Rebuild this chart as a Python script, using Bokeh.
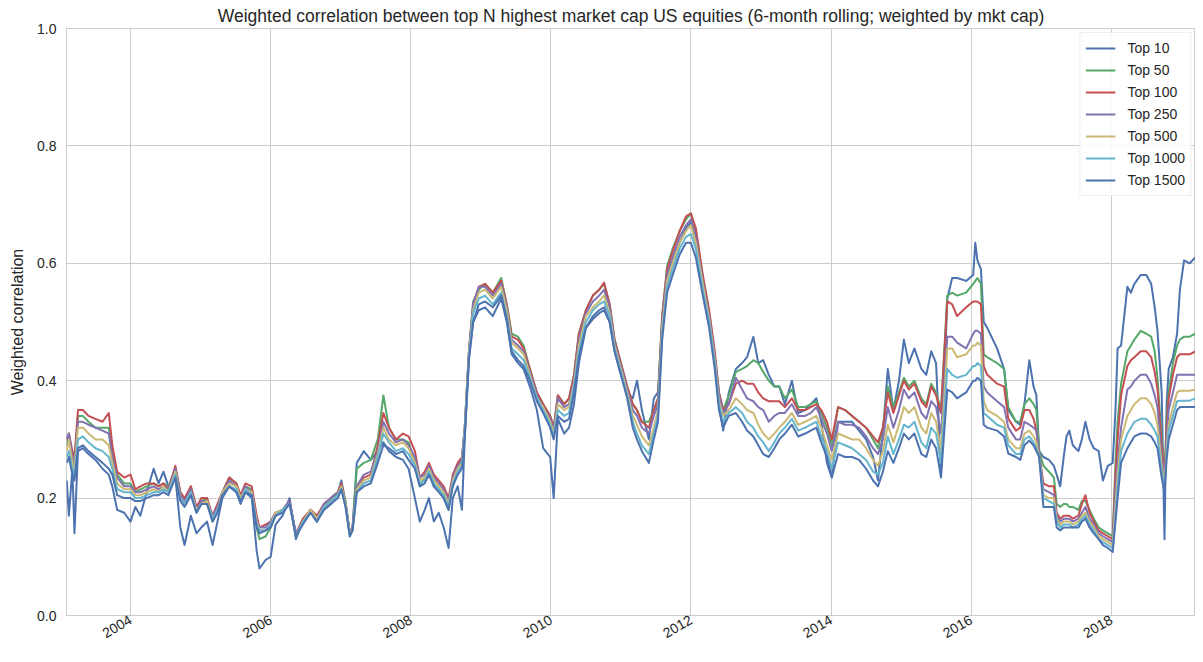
import math
from datetime import datetime
from bokeh.plotting import figure
from bokeh.models import (Range1d, FixedTicker, PrintfTickFormatter,
                          DatetimeTickFormatter, Legend, LegendItem)
from bokeh.embed import file_html
from bokeh.resources import INLINE

# ---------------- data ----------------
# dates as decimal years, one line per calendar year
years = (
    [2003.09, 2003.12, 2003.17, 2003.20, 2003.25, 2003.32, 2003.40, 2003.50, 2003.60, 2003.69, 2003.74, 2003.81, 2003.91]
    + [2004.00, 2004.07, 2004.14, 2004.23, 2004.33, 2004.40, 2004.47, 2004.54, 2004.64, 2004.71, 2004.77, 2004.86, 2004.94]
    + [2005.01, 2005.09, 2005.17, 2005.24, 2005.31, 2005.41, 2005.51, 2005.57, 2005.64, 2005.73, 2005.80, 2005.84, 2005.93]
    + [2006.00, 2006.07, 2006.17, 2006.27, 2006.36, 2006.46, 2006.57, 2006.66, 2006.76, 2006.86, 2006.96]
    + [2007.01, 2007.07, 2007.13, 2007.17, 2007.23, 2007.33, 2007.43, 2007.53, 2007.61, 2007.69, 2007.79, 2007.89, 2007.97]
    + [2008.06, 2008.13, 2008.20, 2008.26, 2008.33, 2008.40, 2008.47, 2008.54, 2008.60, 2008.67, 2008.73, 2008.77, 2008.83, 2008.89, 2008.97]
    + [2009.06, 2009.17, 2009.29, 2009.37, 2009.44, 2009.53, 2009.61, 2009.70, 2009.80, 2009.89, 2009.99]
    + [2010.04, 2010.10, 2010.19, 2010.26, 2010.33, 2010.40, 2010.50, 2010.60, 2010.69, 2010.76, 2010.84, 2010.91]
    + [2011.00, 2011.09, 2011.17, 2011.23, 2011.30, 2011.40, 2011.47, 2011.53, 2011.59, 2011.66, 2011.74, 2011.84, 2011.93]
    + [2012.00, 2012.07, 2012.17, 2012.26, 2012.34, 2012.40, 2012.46, 2012.54, 2012.64, 2012.73, 2012.80, 2012.89, 2012.96]
    + [2013.03, 2013.11, 2013.19, 2013.26, 2013.34, 2013.44, 2013.53, 2013.63, 2013.71, 2013.79, 2013.86, 2013.94]
    + [2014.01, 2014.10, 2014.20, 2014.30, 2014.40, 2014.50, 2014.60, 2014.67, 2014.74, 2014.81, 2014.89, 2014.97]
    + [2015.04, 2015.11, 2015.19, 2015.29, 2015.36, 2015.43, 2015.50, 2015.57, 2015.66, 2015.73, 2015.80, 2015.93]
    + [2016.03, 2016.06, 2016.09, 2016.14, 2016.18, 2016.23, 2016.37, 2016.47, 2016.53, 2016.64, 2016.70, 2016.76, 2016.83, 2016.89, 2016.93, 2016.97]
    + [2017.03, 2017.11, 2017.18, 2017.22, 2017.27, 2017.32, 2017.36, 2017.40, 2017.45, 2017.53, 2017.58, 2017.63, 2017.69, 2017.75, 2017.82, 2017.88, 2017.95]
    + [2018.02, 2018.06, 2018.09, 2018.14, 2018.23, 2018.28, 2018.33, 2018.42, 2018.50, 2018.57, 2018.62, 2018.66, 2018.72, 2018.76, 2018.79, 2018.82, 2018.88, 2018.94, 2018.98]
    + [2019.04, 2019.12, 2019.20, 2019.27, 2019.32]
)

top10 = (
    [.23, .17, .25, .14, .28, .285, .275, .265, .25, .24, .22, .18, .175]
    + [.16, .185, .17, .21, .25, .225, .245, .22, .235, .15, .12, .17, .14]
    + [.15, .16, .12, .16, .20, .22, .21, .19, .21, .20, .11, .08, .095]
    + [.10, .155, .17, .20, .13, .16, .18, .16, .18, .19, .21]
    + [.23, .19, .14, .15, .26, .28, .265, .28, .295, .28, .27, .265, .25]
    + [.20, .16, .18, .20, .16, .175, .15, .115, .20, .22, .18, .30, .44, .50, .52]
    + [.525, .51, .54, .50, .445, .43, .42, .39, .35, .285, .27]
    + [.20, .335, .31, .32, .36, .43, .49, .505, .515, .52, .50, .45]
    + [.41, .38, .37, .40, .35, .30, .37, .38, .50, .57, .60, .635, .66]
    + [.67, .635, .565, .50, .43, .36, .315, .38, .42, .43, .44, .475, .43]
    + [.435, .41, .39, .39, .36, .40, .345, .35, .36, .37, .33, .26]
    + [.235, .33, .33, .33, .315, .30, .27, .23, .31, .42, .35, .40]
    + [.47, .43, .455, .42, .41, .45, .43, .24, .54, .575, .575, .57]
    + [.58, .635, .605, .59, .50, .49, .455, .42, .35, .33, .325, .36, .435, .39, .375, .28]
    + [.27, .265, .255, .24, .22, .27, .305, .315, .29, .28, .30, .33, .30, .285, .28, .23, .255]
    + [.26, .35, .455, .46, .56, .55, .565, .58, .58, .565, .525, .485, .38, .13, .36, .42, .44, .48, .555]
    + [.605, .60, .61, .59, .565]
)

top50 = (
    [.29, .31, .27, .26, .34, .34, .33, .32, .32, .32, .28, .24, .225]
    + [.225, .21, .215, .22, .225, .22, .225, .22, .25, .21, .195, .22, .18]
    + [.195, .20, .16, .18, .21, .235, .225, .20, .22, .215, .15, .13, .135]
    + [.15, .17, .18, .195, .135, .16, .18, .165, .185, .20, .21]
    + [.225, .195, .14, .15, .25, .26, .265, .30, .375, .32, .30, .30, .295]
    + [.26, .22, .235, .25, .22, .215, .20, .18, .225, .25, .26, .32, .45, .535, .555]
    + [.565, .55, .575, .53, .48, .475, .46, .42, .38, .36, .34]
    + [.32, .375, .36, .37, .41, .48, .52, .545, .555, .565, .53, .47]
    + [.43, .39, .36, .35, .33, .33, .35, .37, .51, .595, .625, .655, .675]
    + [.685, .655, .575, .515, .445, .38, .35, .375, .415, .42, .425, .435, .43]
    + [.415, .40, .39, .39, .37, .385, .355, .355, .36, .365, .345, .32]
    + [.29, .355, .35, .34, .33, .32, .30, .285, .32, .39, .355, .38]
    + [.405, .39, .40, .37, .36, .395, .38, .35, .545, .55, .545, .55]
    + [.565, .57, .575, .565, .445, .44, .43, .42, .355, .33, .33, .36, .37, .36, .35, .28]
    + [.255, .245, .235, .19, .185, .19, .19, .185, .185, .18, .195, .195, .18, .165, .15, .145, .14]
    + [.135, .26, .33, .395, .45, .46, .47, .485, .48, .475, .45, .405, .30, .24, .33, .38, .43, .46, .47]
    + [.475, .475, .48, .47, .455]
)

top100 = (
    [.30, .31, .28, .27, .35, .35, .34, .335, .33, .345, .29, .245, .235]
    + [.24, .215, .22, .225, .225, .22, .225, .215, .255, .21, .20, .22, .185]
    + [.20, .20, .17, .19, .21, .235, .225, .205, .225, .22, .17, .15, .155]
    + [.16, .175, .18, .195, .14, .165, .18, .17, .19, .20, .21]
    + [.225, .19, .14, .15, .22, .235, .24, .29, .345, .32, .30, .31, .305]
    + [.28, .235, .245, .26, .24, .23, .22, .20, .24, .26, .27, .32, .45, .53, .56]
    + [.565, .55, .57, .53, .475, .47, .455, .42, .38, .36, .34]
    + [.32, .375, .36, .37, .41, .48, .52, .545, .555, .567, .53, .47]
    + [.43, .39, .36, .35, .33, .32, .35, .37, .51, .59, .62, .655, .68]
    + [.685, .66, .58, .52, .45, .38, .35, .36, .395, .40, .395, .395, .38]
    + [.37, .365, .365, .365, .355, .37, .35, .35, .355, .36, .35, .33]
    + [.30, .355, .35, .34, .33, .32, .305, .295, .32, .38, .345, .375]
    + [.40, .385, .395, .365, .355, .39, .375, .345, .535, .53, .51, .525]
    + [.535, .535, .535, .53, .425, .41, .395, .39, .335, .315, .32, .35, .35, .335, .315, .275]
    + [.225, .22, .22, .175, .165, .17, .17, .17, .165, .17, .19, .205, .175, .16, .145, .14, .135]
    + [.13, .24, .30, .375, .425, .435, .44, .45, .45, .44, .415, .385, .29, .23, .32, .37, .41, .44, .445]
    + [.445, .445, .45, .44, .43]
)

top250 = (
    [.30, .31, .27, .26, .33, .33, .325, .32, .315, .31, .27, .235, .22]
    + [.22, .21, .21, .215, .22, .215, .22, .215, .25, .205, .195, .215, .18]
    + [.195, .195, .17, .185, .21, .23, .22, .20, .22, .21, .16, .15, .15]
    + [.16, .175, .18, .195, .14, .16, .18, .165, .19, .20, .21]
    + [.22, .19, .14, .15, .22, .24, .245, .28, .33, .31, .295, .30, .29]
    + [.27, .235, .24, .255, .235, .225, .215, .195, .235, .255, .265, .32, .45, .53, .56]
    + [.56, .545, .565, .525, .47, .46, .45, .415, .375, .355, .335]
    + [.315, .37, .355, .36, .40, .47, .515, .535, .545, .555, .525, .465]
    + [.425, .385, .35, .34, .32, .31, .34, .36, .50, .58, .61, .645, .665]
    + [.675, .645, .57, .51, .44, .375, .345, .36, .405, .385, .37, .365, .355]
    + [.35, .33, .34, .345, .345, .36, .34, .34, .345, .355, .335, .31]
    + [.28, .33, .325, .325, .32, .305, .285, .275, .30, .355, .32, .35]
    + [.385, .37, .38, .345, .335, .365, .355, .31, .475, .475, .465, .455]
    + [.48, .485, .485, .48, .39, .38, .365, .355, .32, .30, .30, .33, .325, .32, .315, .275]
    + [.215, .21, .205, .17, .16, .165, .165, .165, .16, .165, .175, .185, .165, .155, .14, .135, .13]
    + [.125, .21, .26, .32, .385, .39, .40, .41, .41, .395, .375, .355, .27, .225, .30, .35, .38, .41, .41]
    + [.41, .41, .41, .40, .395]
)

top500 = (
    [.28, .30, .26, .25, .32, .32, .31, .30, .30, .29, .26, .225, .215]
    + [.215, .205, .205, .21, .215, .21, .22, .21, .245, .20, .19, .21, .18]
    + [.19, .195, .165, .18, .21, .225, .22, .20, .215, .21, .16, .145, .145]
    + [.155, .175, .18, .19, .135, .16, .18, .165, .185, .195, .205]
    + [.22, .19, .14, .145, .215, .23, .235, .275, .32, .30, .29, .295, .285]
    + [.26, .23, .235, .25, .23, .22, .21, .19, .23, .25, .26, .315, .445, .52, .55]
    + [.555, .54, .56, .52, .465, .455, .445, .41, .37, .355, .33]
    + [.31, .36, .35, .355, .395, .46, .51, .525, .535, .545, .515, .46]
    + [.42, .38, .34, .325, .305, .29, .32, .35, .49, .57, .60, .635, .655]
    + [.665, .635, .565, .505, .435, .365, .34, .35, .37, .36, .35, .345, .325]
    + [.31, .30, .31, .32, .33, .345, .325, .33, .335, .34, .32, .29]
    + [.265, .31, .305, .30, .30, .285, .265, .255, .28, .325, .295, .325]
    + [.355, .345, .355, .32, .31, .345, .33, .28, .455, .455, .44, .445]
    + [.46, .46, .465, .46, .365, .35, .34, .33, .30, .285, .285, .31, .315, .305, .295, .27]
    + [.205, .20, .20, .165, .155, .16, .16, .16, .155, .16, .17, .175, .16, .15, .135, .13, .125]
    + [.12, .19, .24, .30, .34, .35, .36, .37, .37, .36, .345, .325, .255, .22, .285, .325, .355, .38, .383]
    + [.383, .383, .385, .37, .36]
)

top1000 = (
    [.27, .28, .25, .24, .30, .305, .295, .285, .28, .27, .25, .215, .21]
    + [.21, .20, .20, .205, .21, .21, .215, .21, .24, .20, .19, .21, .175]
    + [.19, .19, .165, .18, .205, .22, .215, .195, .215, .205, .155, .145, .145]
    + [.155, .17, .18, .19, .135, .16, .175, .16, .185, .195, .205]
    + [.215, .185, .135, .145, .21, .225, .23, .27, .31, .295, .28, .285, .275]
    + [.255, .225, .23, .245, .225, .215, .205, .185, .225, .245, .255, .31, .44, .515, .54]
    + [.545, .53, .55, .51, .455, .445, .435, .405, .37, .35, .325]
    + [.305, .35, .34, .345, .39, .45, .50, .52, .53, .535, .51, .455]
    + [.415, .375, .33, .31, .29, .275, .31, .34, .48, .56, .59, .625, .645]
    + [.65, .625, .555, .50, .43, .36, .33, .345, .355, .345, .33, .32, .305]
    + [.295, .28, .295, .31, .32, .335, .315, .32, .325, .33, .305, .28]
    + [.25, .295, .29, .285, .275, .265, .245, .24, .26, .305, .275, .30]
    + [.325, .32, .33, .295, .285, .32, .31, .26, .42, .41, .405, .41]
    + [.425, .425, .43, .425, .345, .34, .325, .32, .29, .275, .275, .30, .305, .295, .285, .27]
    + [.20, .195, .19, .16, .15, .155, .155, .155, .15, .155, .165, .17, .155, .145, .13, .125, .12]
    + [.115, .17, .22, .28, .31, .32, .33, .335, .335, .325, .315, .305, .245, .215, .275, .315, .34, .365, .366]
    + [.366, .366, .37, .355, .35]
)

top1500 = (
    [.26, .27, .24, .23, .285, .29, .28, .27, .26, .25, .24, .205, .20]
    + [.20, .195, .195, .20, .205, .205, .21, .205, .235, .195, .185, .205, .175]
    + [.19, .19, .16, .175, .205, .22, .21, .195, .21, .205, .15, .14, .145]
    + [.15, .17, .175, .19, .135, .155, .175, .16, .18, .19, .20]
    + [.215, .185, .135, .145, .21, .22, .225, .26, .29, .285, .275, .28, .265]
    + [.25, .22, .225, .24, .22, .21, .20, .18, .22, .24, .25, .305, .435, .50, .53]
    + [.535, .525, .545, .505, .45, .435, .425, .40, .365, .345, .32]
    + [.30, .34, .33, .335, .38, .44, .49, .51, .52, .525, .50, .45]
    + [.41, .37, .32, .30, .28, .26, .30, .33, .47, .55, .58, .615, .635]
    + [.635, .61, .545, .49, .42, .35, .32, .34, .345, .33, .315, .305, .29]
    + [.275, .27, .285, .30, .31, .325, .305, .31, .315, .32, .295, .27]
    + [.235, .275, .27, .27, .265, .25, .23, .22, .245, .28, .26, .285]
    + [.31, .30, .31, .275, .27, .30, .285, .235, .385, .38, .37, .38]
    + [.40, .40, .405, .40, .325, .32, .315, .305, .276, .27, .265, .29, .298, .29, .28, .27]
    + [.185, .185, .185, .15, .145, .15, .15, .15, .15, .15, .16, .165, .15, .14, .13, .12, .115]
    + [.108, .16, .20, .26, .285, .295, .305, .31, .31, .305, .295, .285, .235, .21, .265, .30, .325, .35, .355]
    + [.355, .355, .355, .345, .338]
)

series_names = ["Top 10", "Top 50", "Top 100", "Top 250", "Top 500", "Top 1000", "Top 1500"]
series_values = [top10, top50, top100, top250, top500, top1000, top1500]
series_colors = ["#4C72B0", "#55A868", "#C44E52", "#8172B2", "#CCB974", "#64B5CD", "#4C72B0"]

x_ticks_years = [2004, 2006, 2008, 2010, 2012, 2014, 2016, 2018]
y_ticks = [0.0, 0.2, 0.4, 0.6, 0.8, 1.0]

for s in series_values:
    assert len(s) == len(years), (len(s), len(years))


def to_dt(y):
    yr = int(y)
    start = datetime(yr, 1, 1)
    end = datetime(yr + 1, 1, 1)
    return start + (end - start) * (y - yr)


def to_ms(dt):
    return (dt - datetime(1970, 1, 1)).total_seconds() * 1000.0


dates = [to_dt(y) for y in years]

FONT = "Liberation Sans"
TXT = "#262626"
GRID = "#cccccc"

p = figure(width=1195, height=646, x_axis_type="datetime",
           x_range=Range1d(to_dt(2003.086), to_dt(2019.203)),
           y_range=Range1d(0.0, 1.0),
           output_backend="svg", toolbar_location=None,
           min_border_left=66, min_border_right=0,
           min_border_top=28, min_border_bottom=31,
           background_fill_color="white", border_fill_color="white")

p.title.text = ("Weighted correlation between top N highest market cap US equities "
                "(6-month rolling; weighted by mkt cap)")
p.title.align = "center"
p.title.text_font = FONT
p.title.text_font_size = "17.5px"
p.title.text_font_style = "normal"
p.title.text_color = TXT
p.title.standoff = 5

p.outline_line_color = GRID
p.outline_line_width = 1

# axes
xticker = FixedTicker(ticks=[to_ms(datetime(y, 1, 1)) for y in x_ticks_years])
p.xaxis.ticker = xticker
p.xaxis.formatter = DatetimeTickFormatter(years="%Y", months="%Y", days="%Y",
                                          hours="%Y", minutes="%Y", seconds="%Y")
p.xaxis.major_label_orientation = math.radians(30)
p.yaxis.ticker = FixedTicker(ticks=y_ticks)
p.yaxis.formatter = PrintfTickFormatter(format="%.1f")
p.yaxis.axis_label = "Weighted correlation"

for ax in (p.xaxis, p.yaxis):
    ax.axis_line_color = None
    ax.major_tick_line_color = None
    ax.minor_tick_line_color = None
    ax.major_tick_out = 0
    ax.major_tick_in = 0
    ax.major_label_text_font = FONT
    ax.major_label_text_font_size = "14px"
    ax.major_label_text_color = TXT
    ax.axis_label_text_font = FONT
    ax.axis_label_text_font_size = "16px"
    ax.axis_label_text_font_style = "normal"
    ax.axis_label_text_color = TXT

p.xaxis.major_label_standoff = 3
p.yaxis.major_label_standoff = 10
p.yaxis.axis_label_standoff = 8

p.xgrid.ticker = xticker
p.xgrid.grid_line_color = GRID
p.ygrid.grid_line_color = GRID
p.xgrid.grid_line_width = 1
p.ygrid.grid_line_width = 1

items = []
for name, vals, col in zip(series_names, series_values, series_colors):
    r = p.line(dates, vals, line_color=col, line_width=2, line_join="round")
    items.append(LegendItem(label=name, renderers=[r]))

legend = Legend(items=items, location="top_right",
                label_text_font=FONT, label_text_font_size="14px",
                label_text_color=TXT,
                glyph_width=30, glyph_height=20, label_height=20,
                label_standoff=12, spacing=2, padding=5, margin=4,
                border_line_color="#dddddd", border_line_width=1,
                background_fill_color="white", background_fill_alpha=0.85)
p.add_layout(legend)

open("out.html", "w").write(file_html(p, INLINE))
